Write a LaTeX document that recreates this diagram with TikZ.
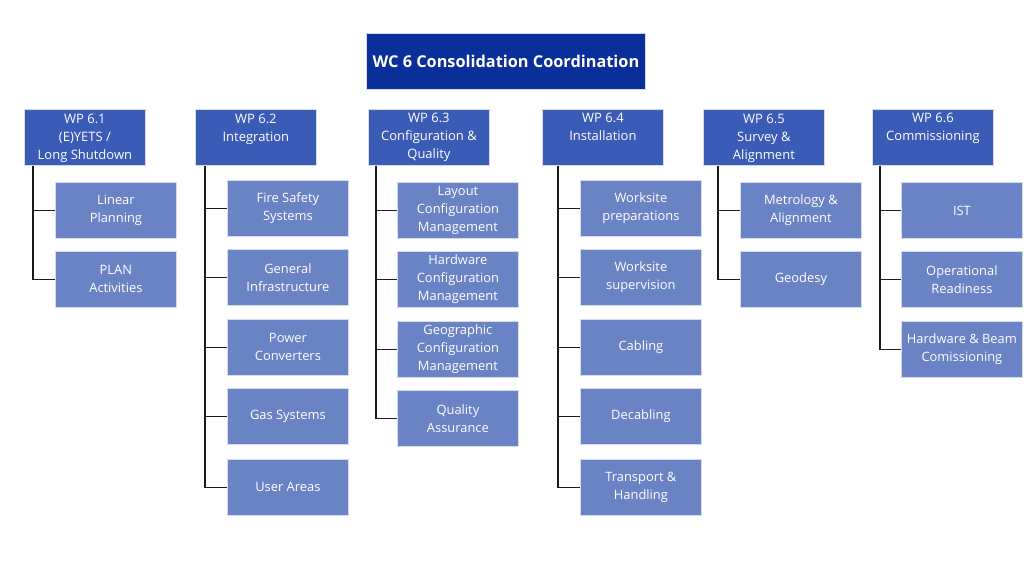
\documentclass[tikz,border=0pt]{standalone}
\usepackage{fontspec}
\setmainfont{Open Sans}
\definecolor{topblue}{HTML}{0A2E9A}
\definecolor{hdrblue}{HTML}{3A5BB6}
\definecolor{chblue}{HTML}{6A83C5}
\definecolor{edgecol}{HTML}{D6DCEE}
\definecolor{linecol}{HTML}{1A1A1A}
\tikzset{
  topbox/.style={draw=edgecol, line width=0.8pt, fill=topblue, text=white, anchor=north west, minimum width=279pt, minimum height=56pt, inner sep=0pt, font=\fontsize{16.3}{19}\selectfont\bfseries},
  hdrbox/.style={draw=edgecol, line width=0.8pt, fill=hdrblue, anchor=north west, minimum width=121pt, minimum height=56pt, inner sep=0pt},
  hdrtext/.style={text=white, anchor=north, align=center, inner sep=0pt, font=\fontsize{13}{18}\selectfont},
  chbox/.style={draw=edgecol, line width=0.8pt, fill=chblue, text=white, anchor=north west, minimum width=121pt, minimum height=56pt, inner sep=0pt, align=center, font=\fontsize{12.9}{18}\selectfont},
  tree/.style={draw=linecol, line width=1.5pt}
}
\begin{document}
\begin{tikzpicture}[x=1pt,y=-1pt]
\useasboundingbox (0,0) rectangle (1024,579);
\fill[white] (0,0) rectangle (1024,579);
\node[topbox] (top) at (366,33) {WC 6 Consolidation Coordination};

% headers
\node[hdrbox] (h1) at (24,109) {};
\node[hdrtext] (h1t) at ([yshift=-5pt]h1.north) {WP 6.1\\(E)YETS /\\Long Shutdown};
\node[hdrbox] (h2) at (195,109) {};
\node[hdrtext] (h2t) at ([yshift=-5pt]h2.north) {WP 6.2\\Integration};
\node[hdrbox] (h3) at (368,109) {};
\node[hdrtext] (h3t) at ([yshift=-3.5pt]h3.north) {WP 6.3\\Configuration \&\\Quality};
\node[hdrbox] (h4) at (542,109) {};
\node[hdrtext] (h4t) at ([yshift=-3.5pt]h4.north) {WP 6.4\\Installation};
\node[hdrbox] (h5) at (703,109) {};
\node[hdrtext] (h5t) at ([yshift=-5pt]h5.north) {WP 6.5\\Survey \&\\Alignment};
\node[hdrbox] (h6) at (872,109) {};
\node[hdrtext] (h6t) at ([yshift=-3.5pt]h6.north) {WP 6.6\\Commissioning};

% spine coordinates
\coordinate (s1) at ([xshift=9pt]h1.south west);
\coordinate (s2) at ([xshift=10pt]h2.south west);
\coordinate (s3) at ([xshift=8pt]h3.south west);
\coordinate (s4) at ([xshift=16pt]h4.south west);
\coordinate (s5) at ([xshift=15pt]h5.south west);
\coordinate (s6) at ([xshift=8pt]h6.south west);

% column 1
\node[chbox] (c11) at (55,182) {Linear\\Planning};
\node[chbox] (c12) at (55,251) {PLAN\\Activities};
% column 2
\node[chbox] (c21) at (227,180) {Fire Safety\\Systems};
\node[chbox] (c22) at (227,249) {General\\Infrastructure};
\node[chbox] (c23) at (227,319) {Power\\Converters};
\node[chbox] (c24) at (227,388) {Gas Systems};
\node[chbox] (c25) at (227,459) {User Areas};
% column 3
\node[chbox] (c31) at (397,182) {Layout\\Configuration\\Management};
\node[chbox] (c32) at (397,251) {Hardware\\Configuration\\Management};
\node[chbox] (c33) at (397,321) {Geographic\\Configuration\\Management};
\node[chbox] (c34) at (397,390) {Quality\\Assurance};
% column 4
\node[chbox] (c41) at (580,180) {Worksite\\preparations};
\node[chbox] (c42) at (580,249) {Worksite\\supervision};
\node[chbox] (c43) at (580,319) {Cabling};
\node[chbox] (c44) at (580,388) {Decabling};
\node[chbox] (c45) at (580,459) {Transport \&\\Handling};
% column 5
\node[chbox] (c51) at (740,182) {Metrology \&\\Alignment};
\node[chbox] (c52) at (740,251) {Geodesy};
% column 6
\node[chbox] (c61) at (901,182) {IST};
\node[chbox] (c62) at (901,251) {Operational\\Readiness};
\node[chbox] (c63) at (901,321) {Hardware \& Beam\\Comissioning};

% connectors
\foreach \c in {c11,c12} \draw[tree] (s1) |- (\c.west);
\foreach \c in {c21,c22,c23,c24,c25} \draw[tree] (s2) |- (\c.west);
\foreach \c in {c31,c32,c33,c34} \draw[tree] (s3) |- (\c.west);
\foreach \c in {c41,c42,c43,c44,c45} \draw[tree] (s4) |- (\c.west);
\foreach \c in {c51,c52} \draw[tree] (s5) |- (\c.west);
\foreach \c in {c61,c62,c63} \draw[tree] (s6) |- (\c.west);
\end{tikzpicture}
\end{document}
